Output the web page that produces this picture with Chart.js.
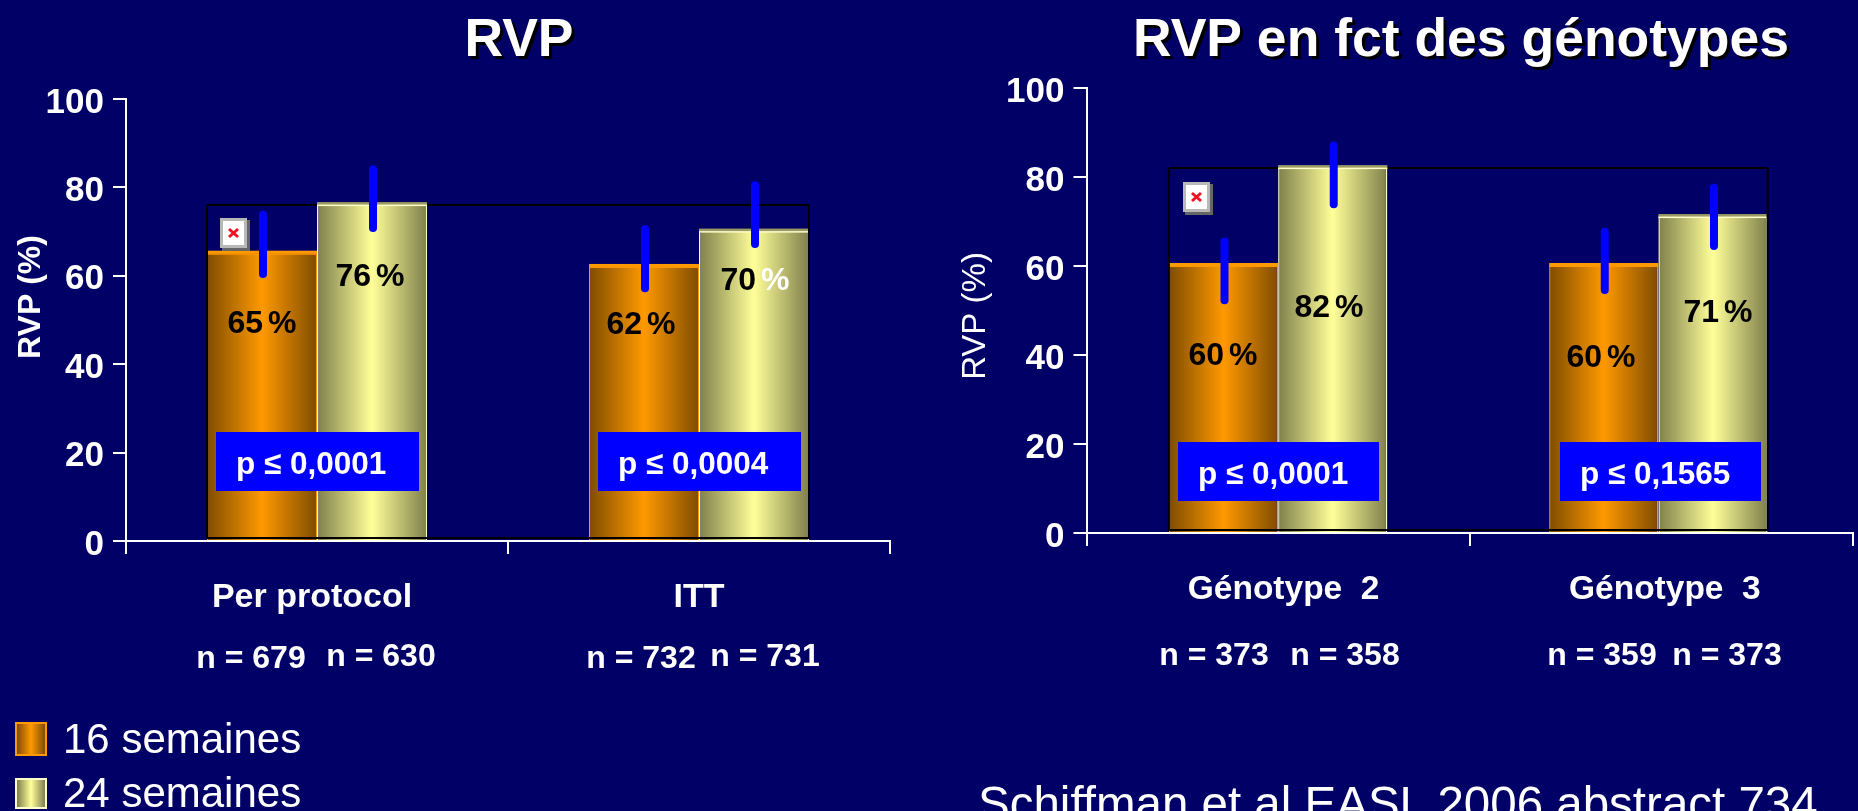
<!DOCTYPE html>
<html lang="fr">
<head>
<meta charset="utf-8">
<title>RVP</title>
<script src="https://cdn.jsdelivr.net/npm/chart.js@4"></script>
<style>
html,body{margin:0;padding:0;width:1858px;height:811px;overflow:hidden;background:#000066;font-family:"Liberation Sans",Arial,sans-serif;color:#fff}
canvas{position:absolute;top:0}
#chartA{left:0}
#chartB{left:930px}
.lg{position:absolute;box-sizing:border-box;left:15px;width:32px}
.lt,.cite{position:absolute;line-height:48px;white-space:nowrap}
.lt{font-size:42px}
.cite{font-size:47.5px}
</style>
</head>
<body>
<canvas id="chartA" width="1038" height="811"></canvas>
<canvas id="chartB" width="1062" height="811"></canvas>
<div id="legend"></div>
<div class="cite" style="left:978px;top:780px">Schiffman et al EASL 2006 abstract 734</div>
<script>
const seriesNames = ["16 semaines", "24 semaines"];

const categoriesA = ["Per protocol", "ITT"];
const week16A = [65, 62];
const week24A = [76, 70];
const errLow16A = [60.4, 57.2];
const errHigh16A = [73.8, 70.6];
const errLow24A = [70.8, 67.2];
const errHigh24A = [84.1, 80.5];
const pValuesA = ["p ≤ 0,0001", "p ≤ 0,0004"];
const nLabelsA = ["n = 679", "n = 630", "n = 732", "n = 731"];

const categoriesB = ["Génotype  2", "Génotype  3"];
const week16B = [60, 60];
const week24B = [82, 71];
const errLow16B = [52.3, 54.6];
const errHigh16B = [65.5, 67.7];
const errLow24B = [73.9, 64.5];
const errHigh24B = [87.1, 77.6];
const pValuesB = ["p ≤ 0,0001", "p ≤ 0,1565"];
const nLabelsB = ["n = 373", "n = 358", "n = 359", "n = 373"];

const yTicks = [0, 20, 40, 60, 80, 100];

const FONT = '"Liberation Sans", Arial, sans-serif';
const ORANGE = {edge:'#7f4c00', mid:'#ff9900', cap:'#ff9900', border:'#ff9900'};
const YELLOW = {edge:'#7f7f4c', mid:'#ffff99', cap:'#9a9a62', border:'#ffffcc'};

function drawText(ctx, txt, x, y, font, color, align){
  ctx.font = font; ctx.fillStyle = color; ctx.textAlign = align || 'center'; ctx.textBaseline = 'middle';
  ctx.fillText(txt, x, y);
}

// nudges the library's own tick labels by a small pixel amount
function nudgeLabels(scale, dx, dy){
  if (scale.$nudged) return;
  scale.$nudged = true;
  const orig = scale._computeLabelItems;
  scale._computeLabelItems = function(chartArea){
    const items = orig.call(this, chartArea);
    items.forEach((it, i) => {
      it.textOffset += dy;
      it.options.translation[0] += dx[i] || 0;
    });
    return items;
  };
}

const overlay = {
  id:'overlay',
  afterLayout(chart, args, o){
    const b = chart.titleBlock;
    const dx = o.titleX - (b.left + b.right)/2;
    b.left += dx; b.right += dx;
  },
  beforeDraw(chart, args, o){
    const t = chart.options.plugins.title, b = chart.titleBlock, ctx = chart.ctx;
    ctx.save();
    drawText(ctx, t.text, (b.left + b.right)/2 + 3, b.top + t.padding.top + 32 + 3, 'bold 53.5px '+FONT, '#000000');
    ctx.restore();
  },
  beforeDatasetsDraw(chart, args, o){
    const ctx = chart.ctx, y = chart.scales.y;
    const all = chart.getSortedVisibleDatasetMetas();
    all.forEach((meta, di) => {
      const pal = di === 0 ? ORANGE : YELLOW;
      meta.data.forEach((el, i) => {
        if (!el.$shifted) { el.x += o.groupShift[i]; el.$shifted = true; }
        const g = ctx.createLinearGradient(el.x - el.width/2, 0, el.x + el.width/2, 0);
        g.addColorStop(0, pal.edge); g.addColorStop(.5, pal.mid); g.addColorStop(1, pal.edge);
        el.options = Object.assign({}, el.options, {backgroundColor:g, borderColor:pal.border, borderWidth:{left:1.5,right:1.5,top:0,bottom:0}});
      });
    });
    // top line of the black frame sits behind the bars
    const first = all[0].data[0], last = all[1].data[all[1].data.length-1];
    const top = y.getPixelForValue(Math.max(...chart.data.datasets.flatMap(d => d.data)));
    ctx.save();
    ctx.strokeStyle = '#000'; ctx.lineWidth = 2;
    ctx.beginPath(); ctx.moveTo(first.x-first.width/2, top); ctx.lineTo(last.x+last.width/2, top); ctx.stroke();
    ctx.restore();
  },
  afterDatasetsDraw(chart, args, o){
    const ctx = chart.ctx, y = chart.scales.y;
    const all = chart.getSortedVisibleDatasetMetas();
    const first = all[0].data[0], last = all[1].data[all[1].data.length-1];
    const top = y.getPixelForValue(Math.max(...chart.data.datasets.flatMap(d => d.data)));
    const bottom = y.bottom - 3;
    ctx.save();
    // 3D caps on top of the bars
    all.forEach((meta, di) => {
      const pal = di === 0 ? ORANGE : YELLOW;
      meta.data.forEach(el => {
        ctx.fillStyle = pal.cap;
        ctx.fillRect(el.x-el.width/2, el.y-3, el.width, 3);
        ctx.fillStyle = pal.border;
        ctx.fillRect(el.x-el.width/2, el.y-0.5, el.width, 1.5);
      });
    });
    // black frame
    ctx.strokeStyle = '#000'; ctx.lineWidth = 2;
    ctx.beginPath();
    ctx.moveTo(first.x-first.width/2, top); ctx.lineTo(first.x-first.width/2, bottom);
    ctx.lineTo(last.x+last.width/2, bottom); ctx.lineTo(last.x+last.width/2, top);
    ctx.stroke();
    // broken image placeholder
    const [ix, iy] = o.icon;
    ctx.fillStyle = '#666'; ctx.fillRect(ix+2, iy+2, 28, 31);
    ctx.fillStyle = '#b8b8b8'; ctx.fillRect(ix, iy, 27, 30);
    ctx.fillStyle = '#fff'; ctx.fillRect(ix+3, iy+3, 21, 24);
    ctx.strokeStyle = '#ee1122'; ctx.lineWidth = 3;
    ctx.beginPath();
    ctx.moveTo(ix+9, iy+11); ctx.lineTo(ix+18, iy+19);
    ctx.moveTo(ix+18, iy+11); ctx.lineTo(ix+9, iy+19);
    ctx.stroke();
    // blue error lines
    ctx.strokeStyle = '#0000ff'; ctx.lineWidth = 8; ctx.lineCap = 'round';
    all.forEach((meta, di) => {
      meta.data.forEach((el, i) => {
        ctx.beginPath();
        ctx.moveTo(el.x + 1, y.getPixelForValue(o.errLow[di][i]));
        ctx.lineTo(el.x + 1, y.getPixelForValue(o.errHigh[di][i]));
        ctx.stroke();
      });
    });
    ctx.lineCap = 'butt';
    // value labels
    const vf = 'bold 32px '+FONT;
    ctx.wordSpacing = '-4px';
    all.forEach((meta, di) => {
      meta.data.forEach((el, i) => {
        const val = chart.data.datasets[di].data[i];
        const pos = o.valuePos[di][i];
        const txt = val + ' %';
        if (o.whitePercent && o.whitePercent[0] === di && o.whitePercent[1] === i) {
          ctx.font = vf;
          const w = ctx.measureText(txt).width, w0 = ctx.measureText(val + ' ').width;
          const left = pos[0] - w/2;
          drawText(ctx, val + ' ', left, pos[1], vf, '#000', 'left');
          drawText(ctx, '%', left + w0, pos[1], vf, '#fff', 'left');
        } else {
          drawText(ctx, txt, pos[0], pos[1], vf, '#000');
        }
      });
    });
    ctx.wordSpacing = '0px';
    // p boxes
    o.pBoxes.forEach((b, i) => {
      ctx.fillStyle = '#0000ff'; ctx.fillRect(b[0], b[1], o.pWidth, 59);
      drawText(ctx, o.pValues[i], b[0]+20, b[1]+33, 'bold 31.5px '+FONT, '#fff', 'left');
    });
    // n labels
    o.nPos.forEach((p, i) => drawText(ctx, o.nLabels[i], p[0], p[1], 'bold 32px '+FONT, '#fff'));
    // axis title
    ctx.save();
    ctx.translate(o.yTitle.x, o.yTitle.y);
    ctx.rotate(-Math.PI/2);
    drawText(ctx, 'RVP (%)', 0, 0, o.yTitle.font, '#fff');
    ctx.restore();
    ctx.restore();
  }
};

function makeChart(id, title, categories, s16, s24, cfg){
  return new Chart(document.getElementById(id), {
    type:'bar',
    plugins:[overlay],
    data:{
      labels:categories,
      datasets:[
        {label:seriesNames[0], data:s16, backgroundColor:ORANGE.mid, borderSkipped:false},
        {label:seriesNames[1], data:s24, backgroundColor:YELLOW.mid, borderSkipped:false}
      ]
    },
    options:{
      responsive:false, animation:false, events:[],
      devicePixelRatio:1,
      categoryPercentage:cfg.catPct, barPercentage:1,
      layout:{padding:{left:0,top:0,right:cfg.padRight,bottom:0}},
      plugins:{
        legend:{display:false}, tooltip:{enabled:false},
        title:{display:true, text:title, color:'#fff', font:{family:FONT,size:53.5,weight:'bold',lineHeight:1.2}, padding:cfg.titlePad},
        overlay:cfg.overlay
      },
      scales:{
        x:{
          border:{color:'#fff',width:2},
          grid:{offset:true,drawOnChartArea:false,drawTicks:true,tickLength:13,color:'#fff',lineWidth:2},
          ticks:{color:'#fff',font:{family:FONT,size:cfg.xFont,weight:'bold'},padding:cfg.xPad,maxRotation:0,autoSkip:false},
          afterFit(s){ s.height = cfg.xHeight; nudgeLabels(s, cfg.xNudge, 0); }
        },
        y:{
          min:0,max:100,
          afterBuildTicks(s){ s.ticks = yTicks.map(v => ({value:v})); },
          border:{color:'#fff',width:2},
          grid:{drawOnChartArea:false,drawTicks:true,tickLength:13,color:'#fff',lineWidth:2},
          ticks:{color:'#fff',font:{family:FONT,size:35,weight:'bold'},padding:9},
          afterFit(s){ s.width = cfg.yWidth; nudgeLabels(s, [], 4); }
        }
      }
    }
  });
}

makeChart('chartA','RVP',categoriesA,week16A,week24A,{
  catPct:0.576, padRight:148, xHeight:270, yWidth:126, xPad:23, xFont:34, xNudge:[-5,0],
  titlePad:{top:9,bottom:25.8},
  overlay:{
    titleX:519, groupShift:[0,0], pWidth:203,
    errLow:[errLow16A,errLow24A], errHigh:[errHigh16A,errHigh24A],
    valuePos:[[[262,324],[641,325]],[[370,277],[755,281]]],
    whitePercent:[1,1],
    pBoxes:[[216,432],[598,432]], pValues:pValuesA,
    nLabels:nLabelsA, nPos:[[251,659],[381,657],[641,659],[765,657]],
    icon:[220,218],
    yTitle:{x:31,y:297,font:'bold 32px '+FONT}
  }
});

makeChart('chartB','RVP en fct des génotypes',categoriesB,week16B,week24B,{
  catPct:0.57, padRight:139, xHeight:278, yWidth:156.5, xPad:24, xFont:33.5, xNudge:[5.5,3.5],
  titlePad:{top:9,bottom:14.8},
  overlay:{
    titleX:531, groupShift:[0,-3], pWidth:201,
    errLow:[errLow16B,errLow24B], errHigh:[errHigh16B,errHigh24B],
    valuePos:[[[293,356],[671,358]],[[399,308],[788,313]]],
    pBoxes:[[248,442],[630,442]], pValues:pValuesB,
    nLabels:nLabelsB, nPos:[[284,656],[415,656],[672,656],[797,656]],
    icon:[253,182],
    yTitle:{x:46,y:316,font:'normal 33px '+FONT}
  }
});

const legend = document.getElementById('legend');
[[722,34,'#ff9900',ORANGE,739],[778,31,'#ffffcc',YELLOW,793]].forEach((r,i)=>{
  const s = document.createElement('div');
  s.className='lg';
  s.style.cssText=`top:${r[0]}px;height:${r[1]}px;border:2px solid ${r[2]};background:linear-gradient(90deg,${r[3].edge},${r[3].mid},${r[3].edge})`;
  legend.appendChild(s);
  const t = document.createElement('div');
  t.className='lt'; t.textContent=seriesNames[i];
  t.style.left='63px'; t.style.top=(r[4]-24)+'px';
  legend.appendChild(t);
});
</script>
</body>
</html>
